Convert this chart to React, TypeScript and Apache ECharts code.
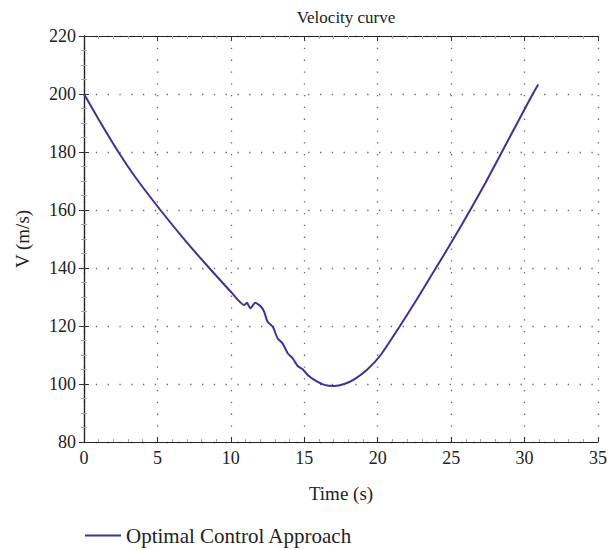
import React, { useEffect, useRef } from "react";
import * as echarts from "echarts";

// Flight time samples (s) and velocity (m/s) of the optimal control trajectory
const timeS = [
  0, 1, 2.34, 3.5, 5.2, 7, 8.53, 10, 10.9, 11.1, 11.32, 11.66, 12.05, 12.27,
  12.5, 12.85, 13.18, 13.52, 13.87, 14.2, 14.55, 14.89, 15.23, 15.68, 16.36,
  17.04, 17.72, 18.4, 19.31, 20.2, 21.45, 22.7, 23.96, 25, 26.3, 27.35, 28.4,
  29.45, 30.5, 30.93,
];
const velocity = [
  200, 191.2, 180, 171.3, 160, 148.8, 140, 131.8, 127.2, 128.0, 126.1, 128.0,
  126.7, 124.9, 121.5, 119.8, 115.8, 114.0, 110.6, 108.9, 106.2, 105.1, 103.1,
  101.4, 99.7, 99.3, 100.0, 101.6, 105.1, 110.0, 119.5, 129.5, 140, 148.7, 160,
  169.5, 179.5, 189.5, 199.5, 203.3,
];
const seriesName = "Optimal Control Approach";
const titleText = "Velocity curve";
const xName = "Time (s)";
const yName = "V (m/s)";

const FONT = "'Liberation Serif', 'DejaVu Serif', serif";
const LINE_COLOR = "#3b3494";

export default function App() {
  const ref = useRef<HTMLDivElement>(null);

  useEffect(() => {
    if (!ref.current) return;
    const chart = echarts.init(ref.current, undefined, { renderer: "svg" });
    const points = timeS.map((t, i) => [t, velocity[i]]);

    const gridLine = {
      show: true,
      lineStyle: { color: "#666", width: 1.3, type: [1.3, 10.5] as any },
    };
    const tickIn = { show: true, inside: true, length: 5, lineStyle: { color: "#333" } };
    const minorIn = { show: true, length: 3, lineStyle: { color: "#aaa" } };
    const axisLine = { show: true, lineStyle: { color: "#222", width: 1.2 } };
    const label = { color: "#222", fontFamily: FONT, fontSize: 18 };
    const nameStyle = { color: "#222", fontFamily: FONT, fontSize: 19 };

    chart.setOption({
      animation: false,
      backgroundColor: "#fff",
      title: {
        text: titleText,
        left: 341,
        textAlign: "center",
        top: 4,
        textStyle: { fontFamily: FONT, fontSize: 17, fontWeight: "normal", color: "#222" },
      },
      legend: {
        left: 80,
        top: 520,
        itemWidth: 36,
        itemHeight: 2,
        icon: "rect",
        itemGap: 10,
        textStyle: { fontFamily: FONT, fontSize: 21, color: "#222" },
        data: [seriesName],
      },
      grid: { left: 84, right: 12, top: 36, bottom: 108, containLabel: false },
      xAxis: [
        {
          type: "value",
          min: 0,
          max: 35,
          interval: 5,
          name: xName,
          nameLocation: "middle",
          nameGap: 42,
          nameTextStyle: nameStyle,
          axisLine,
          axisTick: tickIn,
          minorTick: { ...minorIn, splitNumber: 5 },
          axisLabel: { ...label, margin: 7 },
          splitLine: gridLine,
        },
        {
          type: "value",
          position: "top",
          min: 0,
          max: 35,
          interval: 5,
          axisLine,
          axisTick: tickIn,
          minorTick: { ...minorIn, splitNumber: 5 },
          axisLabel: { show: false },
          splitLine: { show: false },
        },
      ],
      yAxis: [
        {
          type: "value",
          min: 80,
          max: 220,
          interval: 20,
          name: yName,
          nameLocation: "middle",
          nameGap: 52,
          nameRotate: 90,
          nameTextStyle: nameStyle,
          axisLine,
          axisTick: tickIn,
          minorTick: { ...minorIn, splitNumber: 4 },
          axisLabel: { ...label, margin: 8 },
          splitLine: gridLine,
        },
        {
          type: "value",
          position: "right",
          min: 80,
          max: 220,
          interval: 20,
          axisLine,
          axisTick: tickIn,
          minorTick: { ...minorIn, splitNumber: 4 },
          axisLabel: { show: false },
          splitLine: { show: false },
        },
      ],
      series: [
        {
          name: seriesName,
          type: "line",
          data: points,
          showSymbol: false,
          smooth: 0.2,
          lineStyle: { color: LINE_COLOR, width: 2 },
          itemStyle: { color: LINE_COLOR },
        },
      ],
    });

    return () => chart.dispose();
  }, []);

  return <div ref={ref} style={{ width: 610, height: 550, position: "absolute", left: 0, top: 0 }} />;
}
